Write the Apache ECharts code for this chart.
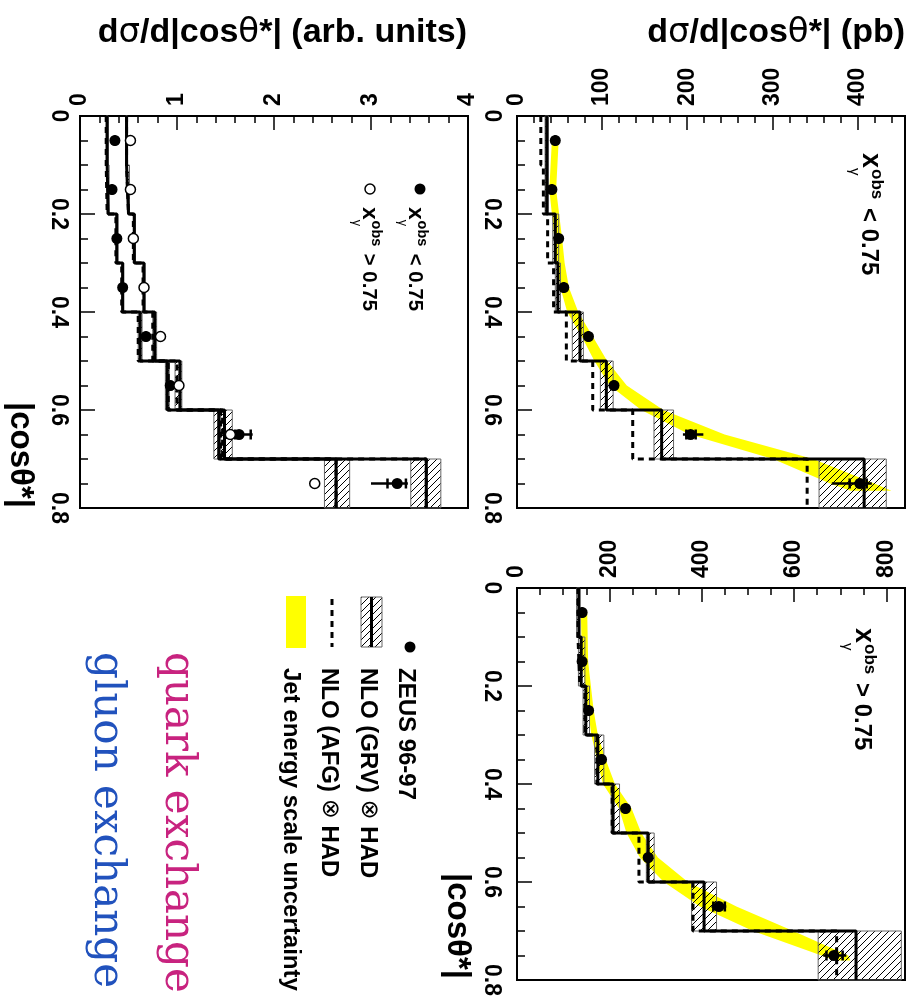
<!DOCTYPE html>
<html><head><meta charset="utf-8">
<script src="https://cdn.jsdelivr.net/npm/echarts@6/dist/echarts.min.js"></script>
<style>html,body{margin:0;padding:0;background:#fff}#c{width:912px;height:1000px}</style>
</head><body><div id="c"></div>
<script>
// ---------------- data ----------------
const binEdges = [0, 0.1, 0.2, 0.3, 0.4, 0.5, 0.6, 0.7, 0.8];
const binCenters = [0.05, 0.15, 0.25, 0.35, 0.45, 0.55, 0.65, 0.75];

// Panel A : x_gamma^obs < 0.75  (pb)
const lowPb_data   = [45, 41, 49, 55, 84, 114, 204, 403];
const lowPb_totLo  = [44, 40, 48, 54, 83, 112, 195, 370];
const lowPb_totHi  = [46, 42, 50, 56, 85, 116, 219, 417];
const lowPb_statLo = [45, 41, 49, 55, 84, 113, 199, 391];
const lowPb_statHi = [45, 41, 49, 55, 84, 115, 210, 411];
const lowPb_grv    = [35, 35, 45, 48, 74, 105, 170, 408];
const lowPb_grvLo  = [33, 33, 42, 45, 65, 98, 161, 355];
const lowPb_grvHi  = [37, 37, 49, 51, 78, 113, 184, 434];
const lowPb_afg    = [28, 31, 36, 43, 58, 89, 136, 341];
const lowPb_bandCos = [0.05, 0.15, 0.25, 0.3, 0.35, 0.4, 0.45, 0.5, 0.55, 0.6, 0.65, 0.7, 0.75, 0.765];
const lowPb_bandLo  = [41, 38, 44, 47, 51, 59, 76, 91, 109, 146, 203, 301, 368, 392];
const lowPb_bandHi  = [49, 46, 53, 56, 61, 72, 89, 106, 129, 172, 244, 348, 420, 440];

// Panel B : x_gamma^obs > 0.75  (pb)
const highPb_data   = [141, 141, 155, 183, 235, 284, 437, 686];
const highPb_totLo  = [139, 139, 153, 181, 233, 281, 421, 663];
const highPb_totHi  = [143, 143, 157, 185, 237, 287, 453, 713];
const highPb_statLo = [141, 141, 155, 183, 235, 283, 425, 670];
const highPb_statHi = [141, 141, 155, 183, 235, 285, 450, 705];
const highPb_grv    = [134, 139, 149, 175, 208, 284, 405, 734];
const highPb_grvLo  = [129, 133, 143, 168, 204, 280, 378, 652];
const highPb_grvHi  = [136, 147, 157, 188, 222, 297, 432, 832];
const highPb_afg    = [132, 136, 147, 173, 206, 264, 381, 692];
const highPb_bandCos = [0.05, 0.15, 0.25, 0.3, 0.35, 0.4, 0.45, 0.5, 0.55, 0.6, 0.65, 0.7, 0.75, 0.76];
const highPb_bandLo  = [138, 141, 154, 161, 173, 186, 221, 237, 266, 318, 396, 511, 659, 690];
const highPb_bandHi  = [152, 154, 166, 175, 192, 212, 248, 269, 305, 370, 475, 598, 717, 722];

// Panel C : arbitrary units
const lowArb_data   = [0.36, 0.33, 0.38, 0.44, 0.68, 0.93, 1.64, 3.27];
const lowArb_totLo  = [0.35, 0.32, 0.37, 0.43, 0.67, 0.91, 1.59, 3.00];
const lowArb_totHi  = [0.37, 0.34, 0.39, 0.45, 0.69, 0.95, 1.78, 3.38];
const lowArb_statLo = [0.36, 0.33, 0.38, 0.44, 0.68, 0.92, 1.60, 3.17];
const lowArb_statHi = [0.36, 0.33, 0.38, 0.44, 0.68, 0.94, 1.76, 3.36];
const lowArb_grv    = [0.28, 0.29, 0.38, 0.44, 0.62, 0.90, 1.43, 3.57];
const lowArb_grvLo  = [0.27, 0.28, 0.37, 0.43, 0.60, 0.88, 1.38, 3.41];
const lowArb_grvHi  = [0.29, 0.30, 0.39, 0.45, 0.64, 0.92, 1.48, 3.72];
const lowArb_afg    = [0.27, 0.28, 0.37, 0.43, 0.60, 0.91, 1.45, 3.57];
const highArb_data  = [0.52, 0.52, 0.55, 0.66, 0.83, 1.02, 1.55, 2.42];
const highArb_totLo = [0.51, 0.51, 0.54, 0.65, 0.82, 1.01, 1.53, 2.38];
const highArb_totHi = [0.53, 0.53, 0.56, 0.67, 0.84, 1.03, 1.57, 2.47];
const highArb_grv   = [0.48, 0.50, 0.56, 0.66, 0.77, 1.03, 1.49, 2.64];
const highArb_grvLo = [0.47, 0.49, 0.55, 0.65, 0.75, 0.98, 1.45, 2.52];
const highArb_grvHi = [0.49, 0.51, 0.57, 0.67, 0.79, 1.05, 1.57, 2.78];
const highArb_afg   = [0.48, 0.50, 0.55, 0.65, 0.75, 1.00, 1.47, 2.64];

// axis ranges / ticks
const cosMax = 0.8, cosMajor = 0.2, cosMinorSplit = 4;
const pbLowMax = 456, pbLowMajor = 100, pbLowMinor = 20;
const pbHighMax = 840, pbHighMajor = 200, pbHighMinor = 50;
const arbMax = 4, arbMajor = 1, arbMinor = 0.2;

// ---------------- helpers ----------------
const FONT = '"Liberation Sans", Arial, Helvetica, sans-serif';
const pc = document.createElement('canvas');
pc.width = 7; pc.height = 7;
(function () {
  const c = pc.getContext('2d');
  c.strokeStyle = '#000'; c.lineWidth = 1;
  c.beginPath();
  c.moveTo(0, 7); c.lineTo(7, 0);
  c.moveTo(-2, 2); c.lineTo(2, -2);
  c.moveTo(5, 9); c.lineTo(9, 5);
  c.stroke();
})();
const hatch = { image: pc, repeat: 'repeat' };

function stepPts(vals) {
  const out = [];
  vals.forEach((v, i) => { out.push([v, binEdges[i]]); out.push([v, binEdges[i + 1]]); });
  return out;
}
function stepLine(g, vals, dashed) {
  return {
    type: 'line', xAxisIndex: 2 * g, yAxisIndex: g, data: stepPts(vals),
    symbol: 'none', z: 4, silent: true,
    lineStyle: { color: '#000', width: 3, opacity: 1, type: dashed ? [6, 5] : 'solid' }
  };
}
function hatchSeries(g, lo, hi) {
  return {
    type: 'custom', xAxisIndex: 2 * g, yAxisIndex: g, z: 3, silent: true,
    data: lo.map((l, i) => [l, hi[i], binEdges[i], binEdges[i + 1]]),
    encode: { x: [0, 1], y: [2, 3] },
    renderItem: (params, api) => {
      const p1 = api.coord([api.value(0), api.value(2)]);
      const p2 = api.coord([api.value(1), api.value(3)]);
      return { type: 'rect',
        shape: { x: p1[0], y: p1[1], width: p2[0] - p1[0], height: p2[1] - p1[1] },
        style: { fill: hatch, stroke: '#666', lineWidth: 1 } };
    }
  };
}
function bandSeries(g, cos, lo, hi) {
  return {
    type: 'custom', xAxisIndex: 2 * g, yAxisIndex: g, z: 1, silent: true,
    data: cos.map((c, i) => [lo[i], hi[i], c]),
    encode: { x: [0, 1], y: 2 },
    renderItem: (params, api) => {
      if (params.dataIndex !== 0) return null;
      const pts = [];
      for (let i = 0; i < cos.length; i++) pts.push(api.coord([lo[i], cos[i]]));
      for (let i = cos.length - 1; i >= 0; i--) pts.push(api.coord([hi[i], cos[i]]));
      return { type: 'polygon', shape: { points: pts }, style: { fill: '#ffff00' } };
    }
  };
}
function errSeries(g, totLo, totHi, statLo, statHi) {
  return {
    type: 'custom', xAxisIndex: 2 * g, yAxisIndex: g, z: 5, silent: true,
    data: binCenters.map((c, i) => [totLo[i], totHi[i], c, statLo[i], statHi[i]]),
    encode: { x: [0, 1], y: 2 },
    renderItem: (params, api) => {
      const c = api.value(2);
      const a = api.coord([api.value(0), c]), b = api.coord([api.value(1), c]);
      const s1 = api.coord([api.value(3), c]), s2 = api.coord([api.value(4), c]);
      return { type: 'group', children: [
        { type: 'line', shape: { x1: a[0], y1: a[1], x2: b[0], y2: b[1] }, style: { stroke: '#000', lineWidth: 2.5 } },
        { type: 'line', shape: { x1: s1[0], y1: s1[1] - 5, x2: s1[0], y2: s1[1] + 5 }, style: { stroke: '#000', lineWidth: 2.5 } },
        { type: 'line', shape: { x1: s2[0], y1: s2[1] - 5, x2: s2[0], y2: s2[1] + 5 }, style: { stroke: '#000', lineWidth: 2.5 } }
      ] };
    }
  };
}
function pts(g, vals, open) {
  return {
    type: 'scatter', xAxisIndex: 2 * g, yAxisIndex: g, z: 6, silent: true,
    data: binCenters.map((c, i) => [vals[i], c]),
    symbol: 'circle', symbolSize: open ? 10 : 11,
    itemStyle: open ? { color: '#fff', borderColor: '#000', borderWidth: 1.5, opacity: 1 } : { color: '#000', opacity: 1 }
  };
}

const tickLine = { color: '#000', width: 1.5 };
const labelStyle = { rotate: -90, color: '#000', fontFamily: FONT, fontWeight: 'bold', fontSize: 23 };
function xAxes(g, max, major, minor, showMax) {
  return [
    { gridIndex: g, type: 'value', position: 'top', min: 0, max: max, interval: major,
      axisLine: { show: true, onZero: false, lineStyle: { color: '#000', width: 2 } },
      axisTick: { show: true, inside: true, length: 14, lineStyle: tickLine },
      axisLabel: Object.assign({ margin: 10, showMaxLabel: showMax, showMinLabel: true, hideOverlap: false }, labelStyle),
      splitLine: { show: false } },
    { gridIndex: g, type: 'value', position: 'top', min: 0, max: max, interval: minor,
      axisLine: { show: false }, axisLabel: { show: false },
      axisTick: { show: true, inside: true, length: 7, lineStyle: tickLine },
      splitLine: { show: false } }
  ];
}
function yAxis(g, margin) {
  return { gridIndex: g, type: 'value', inverse: true, position: 'left', min: 0, max: cosMax, interval: cosMajor,
    axisLine: { show: true, onZero: false, lineStyle: { color: '#000', width: 2 } },
    axisTick: { show: true, inside: true, length: 15, lineStyle: tickLine },
    minorTick: { show: true, splitNumber: cosMinorSplit, length: 8, lineStyle: tickLine },
    axisLabel: Object.assign({ margin: margin, showMaxLabel: true, showMinLabel: true, hideOverlap: false }, labelStyle),
    splitLine: { show: false }, minorSplitLine: { show: false } };
}
function grid(left, top) {
  return { left: left, top: top, width: 388, height: 392, show: true, borderColor: '#000', borderWidth: 2,
    backgroundColor: 'transparent', containLabel: false, outerBoundsMode: 'none' };
}

// ---------- text helpers ----------
const otimesRich = { o: { fontFamily: '"DejaVu Sans", sans-serif', fontWeight: 'normal', fontSize: 24 } };
function rotText(x, y, text, size, opts) {
  opts = opts || {};
  return { type: 'text', x: x, y: y, rotation: -Math.PI / 2, z: 20, silent: true,
    style: { text: text, rich: opts.rich, fontFamily: opts.family || FONT, fontWeight: opts.weight || 'bold', fontSize: size,
      fill: opts.color || '#000', align: opts.align || 'left', verticalAlign: 'middle' } };
}
function xgLabel(x, y, rel, k) {
  // x_gamma^obs rel 0.75 drawn rotated clockwise; (x, y) = baseline start
  return { type: 'group', x: x, y: y, rotation: -Math.PI / 2, z: 20, silent: true, children: [
    { type: 'text', x: 0, y: -8 * k, style: { text: 'x', fontFamily: FONT, fontWeight: 'bold', fontSize: 27 * k, fill: '#000', verticalAlign: 'middle' } },
    { type: 'text', x: 16 * k, y: -15 * k, style: { text: 'obs', fontFamily: FONT, fontWeight: 'bold', fontSize: 17 * k, fill: '#000', verticalAlign: 'middle' } },
    { type: 'text', x: 15 * k, y: 8 * k, style: { text: 'γ', fontFamily: FONT, fontWeight: 'normal', fontSize: 15 * k, fill: '#000', verticalAlign: 'middle' } },
    { type: 'text', x: 55 * k, y: -7 * k, style: { text: rel + ' 0.75', fontFamily: FONT, fontWeight: 'bold', fontSize: 24 * k, fill: '#000', verticalAlign: 'middle' } }
  ] };
}

const ytitleRich = { g: { fontFamily: '"DejaVu Sans", sans-serif', fontWeight: 'normal', fontSize: 34 } };

const option = {
  animation: false,
  backgroundColor: '#fff',
  grid: [grid(80, 116), grid(517, 116), grid(517, 588)],
  xAxis: [].concat(
    xAxes(0, arbMax, arbMajor, arbMinor, true),
    xAxes(1, pbLowMax, pbLowMajor, pbLowMinor, false),
    xAxes(2, pbHighMax, pbHighMajor, pbHighMinor, false)
  ),
  yAxis: [yAxis(0, 10), yAxis(1, 14), yAxis(2, 14)],
  series: [
    // panel C (arb units)
    hatchSeries(0, lowArb_grvLo, lowArb_grvHi),
    hatchSeries(0, highArb_grvLo, highArb_grvHi),
    stepLine(0, lowArb_grv, false), stepLine(0, lowArb_afg, true),
    stepLine(0, highArb_grv, false), stepLine(0, highArb_afg, true),
    errSeries(0, lowArb_totLo, lowArb_totHi, lowArb_statLo, lowArb_statHi),
    errSeries(0, highArb_totLo, highArb_totHi, highArb_data, highArb_data),
    pts(0, lowArb_data, false), pts(0, highArb_data, true),
    // panel A
    bandSeries(1, lowPb_bandCos, lowPb_bandLo, lowPb_bandHi),
    hatchSeries(1, lowPb_grvLo, lowPb_grvHi),
    stepLine(1, lowPb_grv, false), stepLine(1, lowPb_afg, true),
    errSeries(1, lowPb_totLo, lowPb_totHi, lowPb_statLo, lowPb_statHi),
    pts(1, lowPb_data, false),
    // panel B
    bandSeries(2, highPb_bandCos, highPb_bandLo, highPb_bandHi),
    hatchSeries(2, highPb_grvLo, highPb_grvHi),
    stepLine(2, highPb_grv, false), stepLine(2, highPb_afg, true),
    errSeries(2, highPb_totLo, highPb_totHi, highPb_statLo, highPb_statHi),
    pts(2, highPb_data, false)
  ],
  graphic: [
    // y-axis titles (horizontal)
    { type: 'text', x: 467, y: 33, z: 20, silent: true, style: { text: 'd{g|σ}/d|cos{g|θ}*| (arb. units)', rich: ytitleRich,
        fontFamily: FONT, fontWeight: 'bold', fontSize: 34, fill: '#000', align: 'right', verticalAlign: 'middle' } },
    { type: 'text', x: 905, y: 33, z: 20, silent: true, style: { text: 'd{g|σ}/d|cos{g|θ}*| (pb)', rich: ytitleRich,
        fontFamily: FONT, fontWeight: 'bold', fontSize: 34, fill: '#000', align: 'right', verticalAlign: 'middle' } },
    // x-axis titles (rotated)
    rotText(20, 508, '|cosθ*|', 33, { align: 'right' }),
    rotText(457, 979, '|cosθ*|', 33, { align: 'right' }),
    // panel labels
    xgLabel(862, 153, '<', 1),
    xgLabel(855, 628, '>', 1),
    // panel C legend
    { type: 'circle', shape: { cx: 420, cy: 189, r: 5.5 }, style: { fill: '#000' }, z: 20 },
    { type: 'circle', shape: { cx: 370, cy: 189, r: 5 }, style: { fill: '#fff', stroke: '#000', lineWidth: 1.5 }, z: 20 },
    xgLabel(409, 207, '<', 0.85),
    xgLabel(363, 207, '>', 0.85),
    // main legend
    { type: 'circle', shape: { cx: 410, cy: 647, r: 5.5 }, style: { fill: '#000' }, z: 20 },
    rotText(406, 668, 'ZEUS 96-97', 24),
    { type: 'rect', shape: { x: 361, y: 597, width: 21, height: 50 }, style: { fill: hatch, stroke: '#666', lineWidth: 1 }, z: 20 },
    { type: 'line', shape: { x1: 371.5, y1: 597, x2: 371.5, y2: 647 }, style: { stroke: '#000', lineWidth: 3 }, z: 21 },
    rotText(368, 668, 'NLO (GRV) {o|⊗} HAD', 24, { rich: otimesRich }),
    { type: 'line', shape: { x1: 332, y1: 599, x2: 332, y2: 647 }, style: { stroke: '#000', lineWidth: 3, lineDash: [6, 5] }, z: 20 },
    rotText(329, 668, 'NLO (AFG) {o|⊗} HAD', 24, { rich: otimesRich }),
    { type: 'rect', shape: { x: 286, y: 596, width: 20, height: 52 }, style: { fill: '#ffff00' }, z: 20 },
    rotText(291, 668, 'Jet energy scale uncertainty', 24),
    rotText(177, 652, 'quark exchange', 42, { family: '"DejaVu Serif", serif', weight: 'normal', color: '#c8237f' }),
    rotText(106, 652, 'gluon exchange', 42, { family: '"DejaVu Serif", serif', weight: 'normal', color: '#2152bd' })
  ]
};

const chart = echarts.init(document.getElementById('c'), null, { renderer: 'canvas' });
chart.setOption(option);
</script>
</body></html>
